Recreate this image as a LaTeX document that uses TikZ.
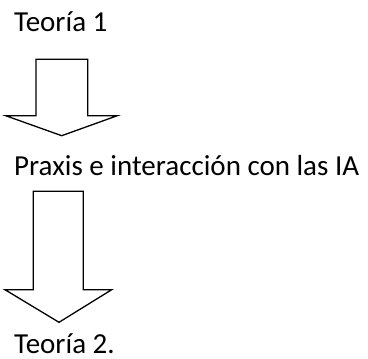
\documentclass[tikz,border=0pt]{standalone}
\usepackage{fontspec}
\setmainfont{Carlito}
\begin{document}
\begin{tikzpicture}[x=1pt,y=-1pt,
  lbl/.style={anchor=base west,inner sep=0pt,font=\fontsize{29}{33}\selectfont},
  blockarrow/.style={draw=black,line width=1.3pt,line join=miter,fill=white}]
\useasboundingbox (0,0) rectangle (368,359);
\node[lbl] (t1) at (14,31.7) {Teoría 1};
\node[lbl] (px) at (14,175) {Praxis e interacción con las IA};
\node[lbl] (t2) at (14,353.3) {Teoría 2.};
\draw[blockarrow] (36,59.3) -- (87.7,59.3) -- (87.7,115.7) -- (117.3,115.7) -- (61.7,135.7) -- (5.7,115.7) -- (36,115.7) -- cycle;
\draw[blockarrow] (33.3,191.3) -- (83.3,191.3) -- (83.3,289.7) -- (111.7,289.7) -- (59,322.3) -- (5,289.7) -- (33.3,289.7) -- cycle;
\end{tikzpicture}
\end{document}
